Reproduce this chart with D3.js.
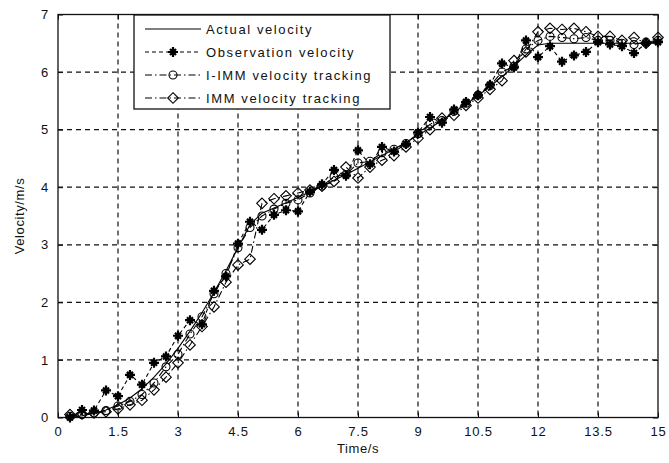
<!DOCTYPE html>
<html>
<head>
<meta charset="utf-8">
<script src="https://cdn.jsdelivr.net/npm/d3@7"></script>
<style>
  body { margin: 0; background: #fff; }
  svg text { font-family: "Liberation Sans", Arial, sans-serif; fill: #111; }
</style>
</head>
<body>
<svg id="chart" width="669" height="463"></svg>
<script>
// time samples (s)
const time = [0.3, 0.6, 0.9, 1.2, 1.5, 1.8, 2.1, 2.4, 2.7, 3.0,
  3.3, 3.6, 3.9, 4.2, 4.5, 4.8, 5.1, 5.4, 5.7, 6.0,
  6.3, 6.6, 6.9, 7.2, 7.5, 7.8, 8.1, 8.4, 8.7, 9.0,
  9.3, 9.6, 9.9, 10.2, 10.5, 10.8, 11.1, 11.4, 11.7, 12.0,
  12.3, 12.6, 12.9, 13.2, 13.5, 13.8, 14.1, 14.4, 14.7, 15.0];

const actualVelocity = [0.0, 0.03, 0.07, 0.13, 0.22, 0.34, 0.5, 0.7, 0.93, 1.2,
  1.5, 1.82, 2.17, 2.55, 2.95, 3.35, 3.55, 3.64, 3.73, 3.82,
  3.92, 4.02, 4.12, 4.22, 4.33, 4.44, 4.55, 4.66, 4.78, 4.9,
  5.03, 5.16, 5.3, 5.44, 5.59, 5.75, 5.92, 6.1, 6.3, 6.47,
  6.5, 6.5, 6.5, 6.5, 6.5, 6.5, 6.5, 6.5, 6.5, 6.5];

const observedVelocity = [0.0, 0.13, 0.12, 0.47, 0.37, 0.74, 0.57, 0.95, 1.06, 1.42,
  1.69, 1.62, 2.2, 2.45, 3.02, 3.4, 3.26, 3.52, 3.6, 3.58,
  3.92, 4.05, 4.3, 4.2, 4.64, 4.4, 4.7, 4.62, 4.75, 4.95,
  5.22, 5.12, 5.35, 5.48, 5.6, 5.78, 6.15, 6.08, 6.55, 6.26,
  6.45, 6.18, 6.29, 6.35, 6.52, 6.48, 6.45, 6.33, 6.5, 6.52];

const iimmVelocity = [0.02, 0.05, 0.08, 0.12, 0.2, 0.28, 0.4, 0.6, 0.88, 1.1,
  1.45, 1.75, 2.15, 2.5, 2.95, 3.3, 3.5, 3.62, 3.72, 3.78,
  3.9, 4.02, 4.18, 4.22, 4.42, 4.45, 4.6, 4.66, 4.76, 4.93,
  5.1, 5.16, 5.32, 5.46, 5.6, 5.76, 6.0, 6.1, 6.4, 6.55,
  6.62, 6.6, 6.58, 6.6, 6.55, 6.55, 6.5, 6.48, 6.52, 6.55];

const immVelocity = [0.05, 0.06, 0.08, 0.1, 0.15, 0.22, 0.3, 0.48, 0.7, 0.95,
  1.26, 1.58, 1.92, 2.35, 2.65, 2.75, 3.72, 3.8, 3.85, 3.9,
  3.95, 4.02, 4.1, 4.35, 4.16, 4.35, 4.47, 4.55, 4.7, 4.85,
  5.0, 5.2, 5.25, 5.42, 5.55, 5.7, 5.85, 6.2, 6.35, 6.7,
  6.76, 6.74, 6.76, 6.7, 6.62, 6.62, 6.55, 6.6, 6.5, 6.6];

const xTicks = [0, 1.5, 3, 4.5, 6, 7.5, 9, 10.5, 12, 13.5, 15];
const yTicks = [0, 1, 2, 3, 4, 5, 6, 7];

const series = [
  { name: "Actual velocity", values: actualVelocity, dash: null, marker: null },
  { name: "Observation velocity", values: observedVelocity, dash: "4,3", marker: "star" },
  { name: "I-IMM velocity tracking", values: iimmVelocity, dash: "7,3,1.5,3", marker: "circle" },
  { name: "IMM velocity tracking", values: immVelocity, dash: "7,3,1.5,3", marker: "diamond" }
];

const svg = d3.select("svg#chart");
const width = +svg.attr("width");
const height = +svg.attr("height");

const margin = { top: 14.5, right: 11, bottom: 45.5, left: 58 };
const chartWidth = width - margin.left - margin.right;
const chartHeight = height - margin.top - margin.bottom;

const x = d3.scaleLinear([0, 15], [0, chartWidth]);
const y = d3.scaleLinear([0, 7], [chartHeight, 0]);

const g = svg.append("g")
  .attr("transform", `translate(${margin.left},${margin.top})`);

// grid
const grid = g.append("g").attr("class", "grid");
grid.selectAll("line.vx")
  .data(xTicks.slice(1, -1))
  .join("line")
  .attr("class", "vx")
  .attr("x1", d => x(d)).attr("x2", d => x(d))
  .attr("y1", 0).attr("y2", chartHeight);
grid.selectAll("line.hy")
  .data(yTicks.slice(1, -1))
  .join("line")
  .attr("class", "hy")
  .attr("x1", 0).attr("x2", chartWidth)
  .attr("y1", d => y(d)).attr("y2", d => y(d));
grid.selectAll("line")
  .attr("stroke", "#111")
  .attr("stroke-width", 1.2)
  .attr("stroke-dasharray", "5,4");

// axes (ticks pointing inward)
const xAxis = g.append("g")
  .attr("transform", `translate(0,${chartHeight})`)
  .call(d3.axisBottom(x).tickValues(xTicks).tickSizeInner(-5).tickSizeOuter(0).tickPadding(9)
    .tickFormat(d3.format("")));
const yAxis = g.append("g")
  .call(d3.axisLeft(y).tickValues(yTicks).tickSizeInner(-5).tickSizeOuter(0).tickPadding(9)
    .tickFormat(d3.format("d")));
[xAxis, yAxis].forEach(a => {
  a.select(".domain").remove();
  a.selectAll("line").attr("stroke", "#111");
  a.selectAll("text")
    .style("font-size", "13px")
    .style("letter-spacing", "0.8px")
    .attr("fill", "#111");
});
// top/right ticks
g.append("g").call(d3.axisTop(x).tickValues(xTicks).tickSizeInner(-5).tickSizeOuter(0).tickFormat(""))
  .call(a => a.select(".domain").remove())
  .selectAll("line").attr("stroke", "#111");
g.append("g").attr("transform", `translate(${chartWidth},0)`)
  .call(d3.axisRight(y).tickValues(yTicks).tickSizeInner(-5).tickSizeOuter(0).tickFormat(""))
  .call(a => a.select(".domain").remove())
  .selectAll("line").attr("stroke", "#111");

// frame
g.append("rect")
  .attr("width", chartWidth).attr("height", chartHeight)
  .attr("fill", "none").attr("stroke", "#111").attr("stroke-width", 1.3);

// axis labels
svg.append("text")
  .attr("x", margin.left + chartWidth / 2).attr("y", 453)
  .attr("text-anchor", "middle")
  .style("font-size", "13px").style("letter-spacing", "0.6px")
  .text("Time/s");
svg.append("text")
  .attr("transform", `translate(24,${margin.top + chartHeight / 2}) rotate(-90)`)
  .attr("text-anchor", "middle")
  .style("font-size", "13px").style("letter-spacing", "0.6px")
  .text("Velocity/m/s");

// markers
const starPath = r => `M0,${-r}V${r}M${-r},0H${r}M${-r * 0.6},${-r * 0.6}L${r * 0.6},${r * 0.6}M${-r * 0.6},${r * 0.6}L${r * 0.6},${-r * 0.6}`;
function drawMarker(sel, type) {
  if (type === "star") {
    sel.append("path").attr("d", starPath(5))
      .attr("fill", "none").attr("stroke", "#000").attr("stroke-width", 2.2);
  } else if (type === "circle") {
    sel.append("circle").attr("r", 4)
      .attr("fill", "none").attr("stroke", "#000").attr("stroke-width", 1.1);
  } else if (type === "diamond") {
    sel.append("path").attr("d", "M0,-5.3L5.3,0L0,5.3L-5.3,0Z")
      .attr("fill", "none").attr("stroke", "#000").attr("stroke-width", 1.1);
  }
}

const line = d3.line()
  .x(d => x(d[0]))
  .y(d => y(d[1]));

const plot = g.append("g");
series.forEach(s => {
  const pts = time.map((t, i) => [t, s.values[i]]);
  plot.append("path")
    .attr("d", line(pts))
    .attr("fill", "none")
    .attr("stroke", "#000")
    .attr("stroke-width", 1.1)
    .attr("stroke-dasharray", s.dash);
  if (s.marker) {
    plot.append("g")
      .selectAll("g")
      .data(pts)
      .join("g")
      .attr("transform", d => `translate(${x(d[0])},${y(d[1])})`)
      .each(function () { drawMarker(d3.select(this), s.marker); });
  }
});

// legend
const legend = svg.append("g").attr("transform", "translate(134,15)");
legend.append("rect")
  .attr("width", 256).attr("height", 94)
  .attr("fill", "#fff").attr("stroke", "#111").attr("stroke-width", 1.3);
const rows = legend.selectAll("g.row")
  .data(series)
  .join("g")
  .attr("class", "row")
  .attr("transform", (d, i) => `translate(0,${14 + i * 23})`);
rows.append("line")
  .attr("x1", 11).attr("x2", 67)
  .attr("stroke", "#000").attr("stroke-width", 1.1)
  .attr("stroke-dasharray", d => d.dash);
rows.each(function (d) { if (d.marker) drawMarker(d3.select(this).append("g").attr("transform", "translate(39,0)"), d.marker); });
rows.append("text")
  .attr("x", 72).attr("dy", "0.36em")
  .style("font-size", "13px")
  .style("letter-spacing", "1.6px")
  .text(d => d.name);
</script>
</body>
</html>
